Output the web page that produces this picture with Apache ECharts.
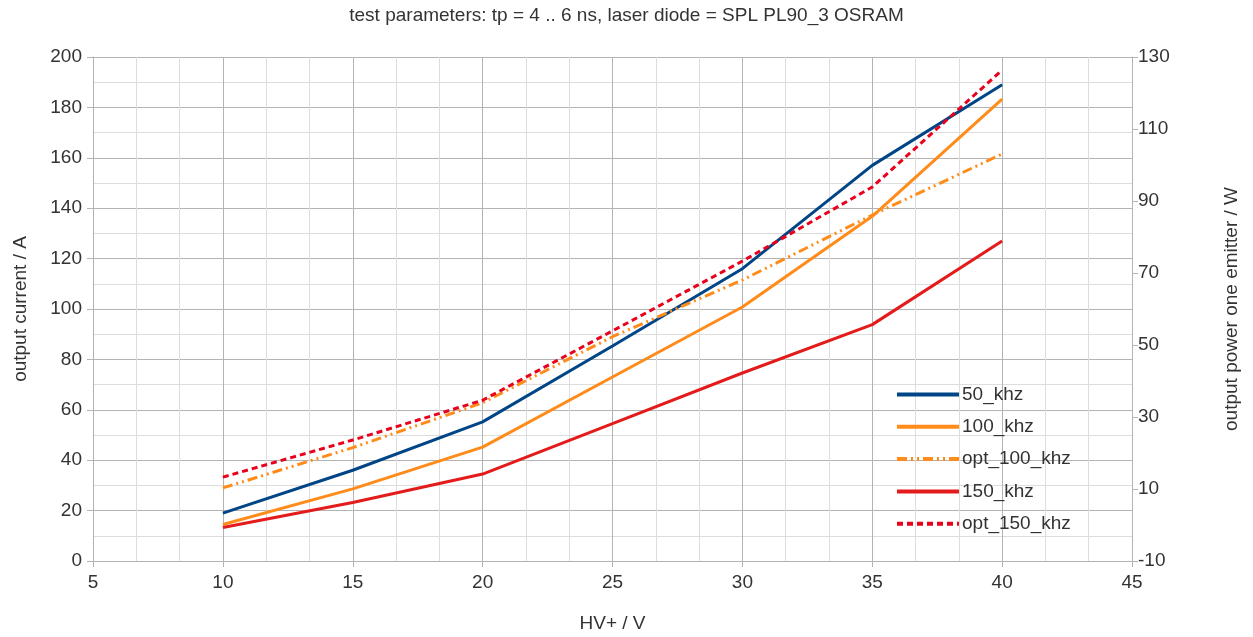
<!DOCTYPE html>
<html>
<head>
<meta charset="utf-8">
<script src="https://cdn.jsdelivr.net/npm/echarts@6/dist/echarts.min.js"></script>
<style>html,body{margin:0;padding:0;background:#fff}#c{width:1253px;height:637px}</style>
</head>
<body>
<div id="c"></div>
<script>
const hv = [10, 15, 20, 25, 30, 35, 40];
const s50 = [19, 36, 55.2, 85.3, 116, 157, 189];
const s100 = [14.5, 28.6, 45.2, 73, 100.8, 136.8, 183.3];
const opt100 = [29, 45, 62.8, 89, 111.5, 137.3, 161.5];
const s150 = [13.3, 23.2, 34.5, 54.5, 74.6, 93.8, 127];
const opt150 = [33.3, 48, 63.8, 91.3, 119, 148.4, 194.8];
const names = ['50_khz', '100_khz', 'opt_100_khz', '150_khz', 'opt_150_khz'];
const titleText = 'test parameters: tp = 4 .. 6 ns, laser diode = SPL PL90_3 OSRAM';

const pair = a => hv.map((x, i) => [x, a[i]]);
const font = 'Liberation Sans, Arial, sans-serif';
const FS = 19;
const lbl = {color: '#333', fontSize: FS, fontFamily: font};

function mk(name, data, color, type) {
  return {
    name, type: 'line', data: pair(data), yAxisIndex: 0, symbol: 'none',
    lineStyle: {color, width: 3, type: type || 'solid'},
    itemStyle: {color}, z: 3
  };
}

const chart = echarts.init(document.getElementById('c'));
chart.setOption({
  animation: false,
  backgroundColor: '#fff',
  title: {text: titleText, left: 'center', top: 1,
    textStyle: {fontSize: 19, fontWeight: 'normal', color: '#333', fontFamily: font}},
  grid: {left: 93, right: 121, top: 57, bottom: 76, containLabel: false, outerBoundsMode: 'none'},
  legend: {
    orient: 'vertical', left: 895, top: 385, padding: 0, itemWidth: 62, itemHeight: 19, itemGap: 13.3,
    data: names, textStyle: {color: '#333', fontSize: FS, fontFamily: font, padding: [0,0,0,-2]},
    itemStyle: {opacity: 0},
    lineStyle: {width: 4}
  },
  xAxis: {
    type: 'value', min: 5, max: 45, interval: 5,
    name: 'HV+ / V', nameLocation: 'middle', nameGap: 53,
    nameTextStyle: {color: '#333', fontSize: FS, fontFamily: font},
    axisLine: {show: true, lineStyle: {color: '#b3b3b3'}},
    axisTick: {show: true, length: 6, lineStyle: {color: '#b3b3b3'}},
    axisLabel: Object.assign({margin: 12}, lbl),
    splitLine: {show: true, lineStyle: {color: '#b3b3b3'}},
    minorTick: {show: false, splitNumber: 3},
    minorSplitLine: {show: true, lineStyle: {color: '#dddddd'}}
  },
  yAxis: [{
    type: 'value', min: 0, max: 200, interval: 20,
    name: 'output current / A', nameLocation: 'middle', nameGap: 63, nameRotate: 90,
    nameTextStyle: {color: '#333', fontSize: FS, fontFamily: font},
    axisLine: {show: true, lineStyle: {color: '#b3b3b3'}},
    axisTick: {show: true, length: 6, lineStyle: {color: '#b3b3b3'}},
    axisLabel: Object.assign({margin: 11}, lbl),
    splitLine: {show: true, lineStyle: {color: '#b3b3b3'}},
    minorTick: {show: false, splitNumber: 2},
    minorSplitLine: {show: true, lineStyle: {color: '#dddddd'}}
  }, {
    type: 'value', min: -10, max: 130, interval: 20, position: 'right',
    name: 'output power one emitter / W', nameLocation: 'middle', nameGap: 90, nameRotate: 90,
    nameTextStyle: {color: '#333', fontSize: FS, fontFamily: font},
    axisLine: {show: true, lineStyle: {color: '#b3b3b3'}},
    axisTick: {show: true, length: 6, lineStyle: {color: '#b3b3b3'}},
    axisLabel: Object.assign({margin: 6}, lbl),
    splitLine: {show: false}
  }],
  series: [
    mk(names[0], s50, '#004586'),
    mk(names[1], s100, '#ff8c1a'),
    mk(names[2], opt100, '#ff8c1a', [10, 4, 2, 4, 2, 4]),
    mk(names[3], s150, '#e31b1b'),
    mk(names[4], opt150, '#e8001c', [6, 4])
  ]
});
</script>
</body>
</html>
